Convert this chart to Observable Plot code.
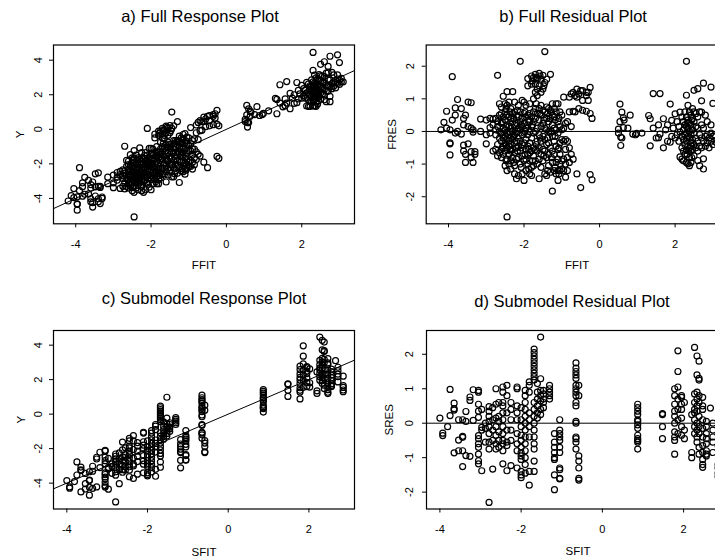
<!DOCTYPE html>
<html>
<head>
<meta charset="utf-8">
<script src="https://cdn.jsdelivr.net/npm/d3@7"></script>
<script src="https://cdn.jsdelivr.net/npm/@observablehq/plot@0.6"></script>
<style>
  html, body { margin: 0; padding: 0; background: #fff; overflow: hidden; }
  #wrap { position: relative; width: 715px; height: 560px; overflow: hidden; background: #fff; }
  .pn { position: absolute; overflow: visible; }
  .pn svg { max-width: none !important; }
</style>
</head>
<body>
<div id="wrap"></div>
<script>
// Full model: columns of [FFIT, [FRES values]]
const fullCols = [
  [-4.2, [0.05]], [-4.12, [0.28]], [-4.05, [0.62, 0.1]], [-3.96, [-0.35, -0.38, -0.72, 0.05]],
  [-3.9, [1.68, 0.35]], [-3.82, [0.72, 0.5, -0.05]], [-3.76, [0.98, 0.0]], [-3.66, [0.7, -0.08]],
  [-3.6, [0.4, 0.2, -0.42, -0.6]], [-3.55, [0.5, -0.7, -0.95]], [-3.48, [0.15, -0.38, 0.9]],
  [-3.4, [0.88, 0.1, -0.8, -0.62]], [-3.35, [-0.95, -0.02, 0.05]], [-3.3, [-0.62, -0.7]],
  [-3.15, [0.38, 0.0]], [-3.0, [0.35, -0.1, -0.38]], [-2.9, [0.12, 0.4, -0.05]], [-2.82, [0.38, -0.6, 0.2]],
  [-2.75, [0.4, -0.1, -0.55, 0.05]], [-2.7, [1.72, 0.3, -0.75, -0.4, 0.15]],
  [-2.65, [0.85, 0.5, -0.2, -0.65, 0.0]], [-2.6, [0.75, 0.55, 0.25, -0.05, -0.3, -0.55, -0.8]],
  [-2.575, [0.3, -0.1, -0.5]],
  [-2.55, [1.08, 0.45, 0.1, -0.2, -0.45, -0.7]], [-2.5, [0.85, 0.6, 0.35, 0.05, -0.15, -0.35, -0.6, -1.05]],
  [-2.475, [0.7, 0.15, -0.4, -0.9]],
  [-2.45, [1.22, 0.8, 0.5, 0.2, -0.05, -0.25, -0.5, -0.85, -1.2, -2.62]],
  [-2.4, [0.9, 0.45, 0.15, -0.1, -0.3, -0.45, -0.7, -1.0]],
  [-2.375, [0.6, 0.0, -0.55]],
  [-2.35, [0.7, 0.4, 0.1, -0.2, -0.4, -0.6, -0.9, -1.15]],
  [-2.3, [1.22, 0.55, 0.3, 0.0, -0.25, -0.55, -0.8]],
  [-2.275, [0.4, -0.15, -0.95]],
  [-2.25, [0.9, 0.6, 0.2, -0.1, -0.35, -0.65, -1.05, -1.3]],
  [-2.2, [0.5, 0.25, -0.05, -0.3, -0.5, -0.85, -1.45]],
  [-2.175, [0.65, 0.0, -0.6]],
  [-2.15, [0.8, 0.45, 0.1, -0.2, -0.45, -0.8, -1.35]],
  [-2.1, [2.15, 0.6, 0.3, 0.05, -0.3, -0.6, -1.0]],
  [-2.075, [0.2, -0.5, -1.1]],
  [-2.05, [0.95, 0.4, 0.15, -0.1, -0.4, -0.75, -1.3]],
  [-2.0, [0.9, 0.55, 0.25, -0.05, -0.35, -0.9, -1.5]],
  [-1.975, [0.6, 0.0, -0.7]],
  [-1.95, [0.8, 0.45, 0.1, -0.25, -0.55, -0.85, -1.2]],
  [-1.9, [1.62, 1.4, 0.5, 0.2, -0.1, -0.45, -0.7, -1.0]],
  [-1.875, [0.35, -0.55, -1.15]],
  [-1.85, [0.85, 0.55, 0.3, 0.0, -0.35, -0.65, -0.9, -1.3]],
  [-1.8, [1.7, 1.45, 0.45, 0.15, -0.2, -0.6, -1.1, -1.35]],
  [-1.775, [1.55, 0.2, -0.9]],
  [-1.75, [1.65, 1.0, 0.6, 0.3, -0.05, -0.5, -0.75, -1.05]],
  [-1.7, [1.75, 1.45, 1.2, 0.7, 0.4, 0.0, -0.55, -0.9]],
  [-1.675, [1.65, 0.85, -0.4]],
  [-1.65, [1.6, 1.3, 1.1, 0.55, 0.1, -0.3, -0.6, -1.0]],
  [-1.6, [1.78, 1.4, 0.7, 0.35, -0.1, -0.5, -0.85, -1.45]],
  [-1.575, [1.7, 0.55, -0.2]],
  [-1.55, [1.6, 1.2, 0.8, 0.5, 0.15, -0.3, -0.7, -1.1]],
  [-1.5, [1.72, 1.3, 0.65, 0.25, -0.15, -0.55, -0.9]],
  [-1.475, [1.4, 0.35, -0.75]],
  [-1.45, [2.45, 1.5, 0.6, 0.1, -0.25, -0.6, -1.3]],
  [-1.4, [1.6, 0.75, 0.4, 0.05, -0.4, -0.8, -1.35]],
  [-1.375, [0.55, -0.2, -1.2]],
  [-1.35, [0.7, 0.3, 0.0, -0.35, -0.7, -1.05]],
  [-1.3, [1.75, 0.65, 0.4, -0.05, -0.5, -1.25]],
  [-1.275, [0.6, 0.0, -0.8]],
  [-1.25, [0.85, 0.5, 0.2, -0.15, -0.6, -0.95, -1.83]],
  [-1.2, [0.7, 0.45, 0.1, -0.3, -0.7, -1.2]],
  [-1.175, [0.35, -0.15, -1.1]],
  [-1.15, [0.85, 0.6, 0.05, -0.45, -0.95, -1.3]],
  [-1.1, [0.85, 0.3, -0.05, -0.55, -0.85, -1.2, -1.5]],
  [-1.075, [0.4, -0.5, -1.3]],
  [-1.05, [0.6, 0.15, -0.35, -0.7, -1.0, -1.2]],
  [-1.0, [0.5, 0.05, -0.25, -0.9, -1.15]],
  [-0.95, [1.05, 0.1, -0.3, -0.85, -1.2]],
  [-0.9, [0.25, -0.25, -0.55, -1.0, -1.4]],
  [-0.85, [0.3, -0.3, -0.8, -1.2]],
  [-0.8, [1.05, 0.6, -0.5, -0.95]],
  [-0.75, [1.15, 0.15, -0.7]], [-0.7, [1.2, 0.62, -0.85]], [-0.65, [1.1, 0.6]],
  [-0.6, [1.3, 1.05, -1.3]], [-0.55, [1.15, 0.7]], [-0.5, [1.25, -1.72]],
  [-0.45, [1.25, 0.95, 0.65]], [-0.35, [1.1, 0.62, 1.2]], [-0.3, [1.2, 0.95]],
  [-0.25, [1.35, 0.55, -1.32]], [-0.2, [0.4, -1.48]],
  [0.5, [0.07, -0.05]], [0.54, [0.84, 0.3]], [0.56, [-0.17, -0.43]], [0.59, [0.59, -0.2]],
  [0.63, [0.12, 0.42]], [0.65, [0.35]], [0.75, [0.1]], [0.81, [0.5]], [0.88, [-0.08]],
  [0.95, [-0.1]], [0.98, [-0.06]], [1.12, [-0.05]], [1.3, [0.49]], [1.34, [0.39, -0.44]],
  [1.42, [1.16, 0.1]], [1.5, [-0.2]], [1.56, [-0.19, 0.2]], [1.6, [1.16, -0.08]],
  [1.69, [0.39, -0.5]], [1.75, [0.05]], [1.8, [0.2, -0.3]], [1.87, [0.84, -0.33]],
  [1.91, [0.34, -0.15]], [1.95, [0.1]], [2.0, [0.54, -0.2]], [2.05, [0.3, -0.1]],
  [2.1, [0.15, -0.3]], [2.13, [0.59, -0.02, -0.78]], [2.18, [0.45, -0.15, -0.5, -0.85]],
  [2.22, [0.3, 0.05, -0.25, -0.6, -0.9]], [2.26, [0.6, 0.2, -0.1, -0.4, -0.7]],
  [2.3, [2.15, 1.11, 0.45, 0.15, -0.05, -0.3, -0.58, -0.95]],
  [2.32, [0.25, -0.2, -0.7]],
  [2.34, [0.8, 0.35, 0.1, -0.15, -0.45, -0.99]],
  [2.36, [-0.6]],
  [2.38, [0.6, 0.25, 0.0, -0.2, -0.5, -0.8, -1.05]],
  [2.42, [0.5, 0.2, -0.1, -0.35, -0.6, -0.95]],
  [2.44, [0.35, -0.45, -0.8]],
  [2.46, [0.7, 0.4, 0.05, -0.25, -0.55]],
  [2.5, [1.26, 0.6, 0.3, -0.05, -0.4, -0.75]],
  [2.55, [0.55, 0.15, -0.2, -0.5]],
  [2.6, [1.31, 0.45, 0.1, -0.3, -0.6, -0.89]],
  [2.65, [0.6, -0.1, -0.45, -1.05]],
  [2.7, [0.94, 0.59, 0.2, -0.2, -0.5]],
  [2.75, [1.48, 0.1, -0.3, -0.84, -1.15]],
  [2.8, [0.5, -0.15, -0.45]], [2.85, [0.3, -0.1, -0.35]], [2.9, [-0.2, -0.5]],
  [2.95, [1.36, 0.2, -0.05, -0.3]], [3.0, [0.86, -0.15, -0.4]], [3.05, [-0.1, -0.3]], [3.1, [-0.35]]
];

// Submodel: columns of [SFIT, [SRES values]]
const subCols = [
  [-4.0, [0.15]], [-3.93, [-0.29, -0.36]], [-3.81, [-0.1]], [-3.75, [0.98, 0.22]],
  [-3.65, [0.58, 0.42, 0.38, -0.86]], [-3.54, [0.1, -0.49, -0.8]],
  [-3.44, [-0.41, -0.38, 0.1, -0.8, -1.26]], [-3.36, [0.34, 0.05, -0.94]],
  [-3.26, [0.76, 0.66, -0.96]], [-3.18, [0.97, 0.08]],
  [-3.05, [0.95, 0.9, 0.55, 0.35, 0.17, -0.36, -0.45, -0.6, -0.7, -0.9, -1.09, -1.18]],
  [-2.97, [-0.12, -0.2, 0.4, -1.38]], [-2.88, [0.0, -0.15, -0.55]],
  [-2.79, [-2.3, 0.48, 0.35, 0.2, 0.05, -0.1, -0.3, -0.55, -0.75]],
  [-2.7, [0.45, 0.1, -0.2, -0.5, -1.33]],
  [-2.62, [1.0, 0.55, 0.15, -0.1, -0.35, -0.6, -0.75]],
  [-2.55, [0.6, 0.2, 0.05, -0.25, -0.5, -0.7]],
  [-2.45, [1.05, 0.9, 0.6, 0.5, 0.3, 0.1, -0.1, -0.3, -0.5, -0.6, -0.8, -1.18]],
  [-2.35, [1.1, 0.8, 0.3, -0.2, -0.55, -0.65, -1.38]],
  [-2.25, [0.6, 0.4, 0.1, -0.2, -0.5, -1.23]],
  [-2.1, [1.05, 1.0, 0.5, 0.3, 0.1, -0.3, -0.6, -0.8, -1.3]],
  [-2.0, [0.45, 0.1, -0.1, -0.35, -0.5, -0.7, -0.85, -0.95, -1.05, -1.4, -1.5, -1.58]],
  [-1.9, [0.95, 0.8, 0.6, 0.4, 0.2, 0.0, -0.2, -0.4, -0.6, -0.8, -1.0, -1.2, -1.45]],
  [-1.8, [1.2, 1.1, 0.9, 0.3, 0.1, -0.1, -0.4, -1.4, -1.8]],
  [-1.68, [2.15, 2.05, 1.95, 1.85, 1.75, 1.65, 1.55, 1.45, 1.35, 1.25, 0.6, 0.4, 0.2, 0.0, -0.2, -0.4, -0.6, -0.75, -1.1, -1.4]],
  [-1.6, [1.15, 0.9, 0.7, 0.5, 0.3, 0.15]],
  [-1.52, [2.5, 1.29, 0.95, 0.8, 0.65, 0.4, 0.25]],
  [-1.45, [0.95, 0.85, 0.7, 0.6, 0.45]],
  [-1.3, [1.1, 1.0, 0.9, 0.8, 0.7]],
  [-1.18, [-0.3, -0.55, -0.7, -0.85, -1.0, -1.05, -1.5, -1.93]],
  [-1.05, [0.1, -0.2, -0.3, -0.4, -0.5, -0.7, -0.85, -1.3, -1.35, -1.6, -1.62]],
  [-0.65, [1.75, 1.6, 1.5, 1.4, 1.3, 1.1, 1.0, 0.9, 0.8, 0.6, 0.5, 0.05, 0.0, -0.4, -0.45, -0.55, -0.75]],
  [-0.58, [1.1, 0.8, -0.95, -1.1, -1.3, -1.6, -1.65]],
  [0.87, [0.55, 0.45, 0.35, 0.25, 0.1, 0.05, -0.05, -0.15, -0.35, -0.45, -0.5, -0.55, -0.75]],
  [1.48, [0.28, 0.25, -0.1, -0.45]],
  [1.78, [1.0, 0.8, 0.55, 0.35, 0.2, 0.0, -0.25, -0.4, -0.5, -0.9]],
  [1.86, [2.1, 1.5, 1.05, 0.7, 0.4, 0.1, -0.3]],
  [1.95, [0.8, 0.75, 0.55, 0.4, 0.15, -0.1, -0.35]],
  [2.02, [0.6, -0.2, -0.45]],
  [2.2, [0.25, -0.85, -1.0]],
  [2.27, [2.2, 0.85, 0.6, 0.4, 0.3, 0.1, -0.1, -0.3]],
  [2.33, [1.95, 1.4, 0.9, 0.7, 0.5, 0.35, 0.0, -0.2, -0.4, -0.55]],
  [2.38, [1.8, 1.3, 1.25, 0.8, 0.6, 0.2, -0.1, -0.3, -0.7, -0.9]],
  [2.47, [0.75, 0.5, 0.4, 0.1, -0.15, -0.4, -0.65, -0.85, -1.05, -1.2, -1.28]],
  [2.56, [0.05, -0.1, -0.3, -0.45, -0.6, -0.8, -0.9, -0.95]],
  [2.66, [0.44]],
  [2.72, [0.0, -0.2, -0.4, -0.55, -0.85]],
  [2.85, [-0.65, -1.2, -1.3, -1.45, -1.55]]
];

const xTicks = [-4, -2, 0, 2];
const yTicksResp = [-4, -2, 0, 2, 4];
const yTicksRes = [-2, -1, 0, 1, 2];

// Response Y = fitted value + residual (definition of a residual)
const full = fullCols.flatMap(([f, rs]) => rs.map(r => ({fit: f, res: r, y: f + r})));
const sub = subCols.flatMap(([f, rs]) => rs.map(r => ({fit: f, res: r, y: f + r})));

const FONT = "'Liberation Sans', Arial, Helvetica, sans-serif";
const fmt = d => (d < 0 ? "-" + Math.abs(d) : String(d));

function panel(o) {
  const marks = [];
  if (o.resid) marks.push(Plot.ruleY([0], {stroke: "black", strokeWidth: 1}));
  else marks.push(Plot.line(o.xDomain.map(v => ({x: v, y: v})), {x: "x", y: "y", stroke: "black", strokeWidth: 1, clip: true}));
  marks.push(
    Plot.dot(o.data, {x: "fit", y: o.yKey, r: 3, stroke: "black", strokeWidth: 1.2, fill: "none"}),
    Plot.frame({stroke: "black", strokeWidth: 1.2}),
    Plot.axisX(xTicks, {tickSize: 4, tickPadding: 12, tickFormat: fmt, label: null, fontSize: 11, stroke: "black"}),
    Plot.axisY(o.yTicks, {tickSize: 4, tickFormat: () => "", label: null, stroke: "black"}),
    Plot.text(o.yTicks, {y: d => d, text: fmt, frameAnchor: "left", dx: o.tickDx, rotate: -90, textAnchor: "middle", lineAnchor: "middle", fontSize: 11, fill: "black"}),
    Plot.text([o.xLabel], {text: d => d, frameAnchor: "bottom", dy: o.xLabDy, lineAnchor: "middle", fontSize: 11.5, fill: "black"}),
    Plot.text([o.yLabel], {text: d => d, frameAnchor: "left", dx: o.yLabDx, rotate: -90, textAnchor: "middle", lineAnchor: "middle", fontSize: 11.5, fill: "black"}),
    Plot.text([o.title], {text: d => d, frameAnchor: "top", dy: o.titleDy, dx: o.titleDx, lineAnchor: "middle", fontSize: 16.5, fill: "black"})
  );
  const svg = Plot.plot({
    width: o.width, height: o.height,
    marginLeft: o.mL, marginRight: o.mR, marginTop: o.mT, marginBottom: o.mB,
    x: {domain: o.xDomain, axis: null},
    y: {domain: o.yDomain, axis: null},
    style: {fontFamily: FONT, fontSize: "11px", color: "black", background: "transparent", overflow: "visible", maxWidth: "none"},
    marks
  });
  svg.style.maxWidth = "none";
  svg.style.width = o.width + "px";
  svg.style.height = o.height + "px";
  const div = document.createElement("div");
  div.className = "pn";
  div.style.left = o.left + "px";
  div.style.top = o.top + "px";
  div.style.width = o.width + "px";
  div.style.height = o.height + "px";
  div.appendChild(svg);
  document.getElementById("wrap").appendChild(div);
}

panel({data: full, yKey: "y", resid: false, xDomain: [-4.59, 3.40], yDomain: [-5.47, 4.88], yTicks: yTicksResp,
  left: 0, top: 0, width: 360, height: 280, mL: 53, mR: 6, mT: 44.5, mB: 56.7,
  tickDx: -15, xLabDy: 42, yLabDx: -33, titleDy: -28, titleDx: -4,
  title: "a) Full Response Plot", xLabel: "FFIT", yLabel: "Y"});

panel({data: full, yKey: "res", resid: true, xDomain: [-4.59, 3.40], yDomain: [-2.83, 2.65], yTicks: yTicksRes,
  left: 360, top: 0, width: 370, height: 280, mL: 65.7, mR: 2.5, mT: 44.5, mB: 56.7,
  tickDx: -16, xLabDy: 42, yLabDx: -34, titleDy: -28, titleDx: -4,
  title: "b) Full Residual Plot", xLabel: "FFIT", yLabel: "FRES"});

panel({data: sub, yKey: "y", resid: false, xDomain: [-4.33, 3.13], yDomain: [-5.5, 4.85], yTicks: yTicksResp,
  left: 0, top: 280, width: 360, height: 280, mL: 53, mR: 6, mT: 50, mB: 51.5,
  tickDx: -15, xLabDy: 43, yLabDx: -32, titleDy: -31.5, titleDx: 0,
  title: "c) Submodel Response Plot", xLabel: "SFIT", yLabel: "Y"});

panel({data: sub, yKey: "res", resid: true, xDomain: [-4.33, 3.13], yDomain: [-2.49, 2.69], yTicks: yTicksRes,
  left: 360, top: 280, width: 372, height: 280, mL: 66, mR: 3, mT: 50, mB: 51.5,
  tickDx: -17, xLabDy: 42, yLabDx: -37, titleDy: -28.5, titleDx: -6,
  title: "d) Submodel Residual Plot", xLabel: "SFIT", yLabel: "SRES"});
</script>
</body>
</html>
